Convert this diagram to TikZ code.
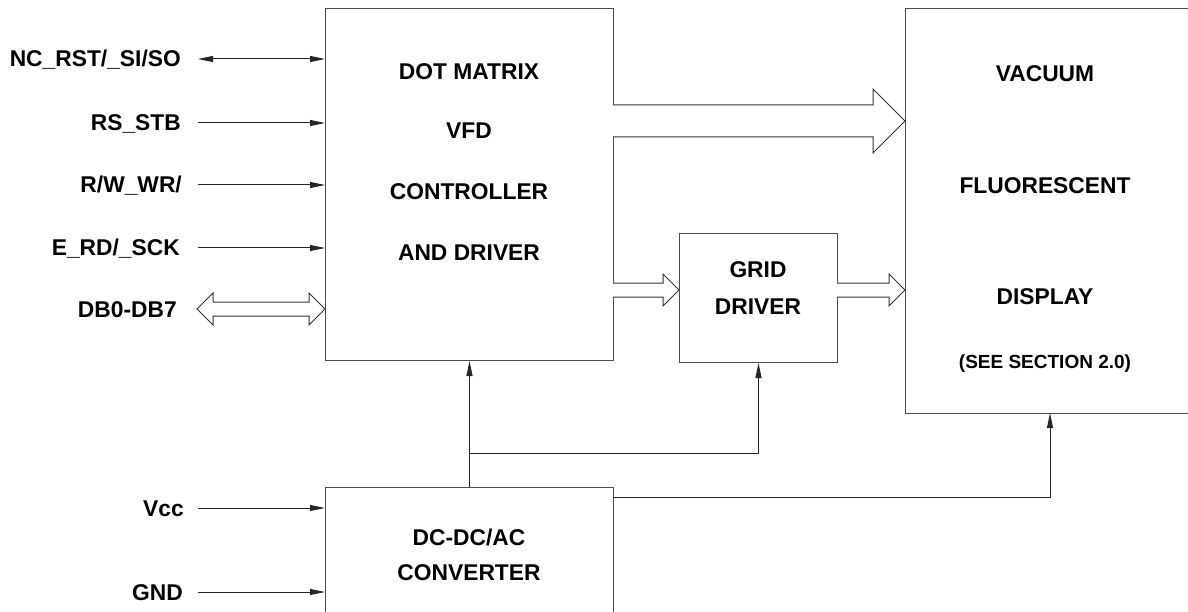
\documentclass[tikz,border=0pt]{standalone}
\usepackage{fontspec}
\setmainfont{Liberation Sans}
\usetikzlibrary{arrows.meta,calc}
\begin{document}
\begin{tikzpicture}[x=1pt,y=-1pt,
  >={Triangle[length=15pt,width=6pt]},
  box/.style={draw=black!70,line width=1pt,rectangle,anchor=north west,inner sep=0pt},
  lbl/.style={font=\fontsize{22.8}{26}\selectfont\bfseries,inner sep=0pt,text height=16pt,text depth=0pt},
  small/.style={font=\fontsize{19}{22}\selectfont\bfseries,inner sep=0pt,text height=13.5pt,text depth=0pt},
  sig/.style={draw=black!85,line width=1pt},
  hollow/.style={draw=black!80,line width=1pt,fill=white,line join=miter}]
\useasboundingbox (0,0) rectangle (1188,612);
% boxes
\node[box,minimum width=288pt,minimum height=352pt] (ctrl) at (325,8) {};
\node[box,minimum width=158pt,minimum height=129pt] (grid) at (679,233) {};
\node[box,minimum width=290pt,minimum height=405pt] (vfd) at (905,8) {};
\node[box,minimum width=288pt,minimum height=135pt] (conv) at (325,487) {};
% box texts
\node[lbl] (t1) at (469,72) {DOT MATRIX};
\node[lbl] (t2) at (469,131) {VFD};
\node[lbl] (t3) at (469,192) {CONTROLLER};
\node[lbl] (t4) at (469,253) {AND DRIVER};
\node[lbl] (g1) at (758,270) {GRID};
\node[lbl] (g2) at (758,306) {DRIVER};
\node[lbl] (v1) at (1045,74) {VACUUM};
\node[lbl] (v2) at (1045,186) {FLUORESCENT};
\node[lbl] (v3) at (1045,297) {DISPLAY};
\node[small] (v4) at (1045,362) {(SEE SECTION 2.0)};
\node[lbl] (c1) at (469,537) {DC-DC/AC};
\node[lbl] (c2) at (469,572) {CONVERTER};
% left labels
\node[lbl,anchor=east] (lnc) at (181,59) {NC\_RST/\_SI/SO};
\node[lbl,anchor=east] (lrs) at (181,123) {RS\_STB};
\node[lbl,anchor=east] (lrw) at (182,185) {R/W\_WR/};
\node[lbl,anchor=east] (le) at (180,248) {E\_RD/\_SCK};
\node[lbl,anchor=east] (ldb) at (177,309) {DB0-DB7};
\node[lbl,anchor=east] (lvcc) at (184,508) {Vcc};
\node[lbl,anchor=east] (lgnd) at (183,592) {GND};
% signal lines
\coordinate (snc) at (198,59);
\draw[sig,<->] (snc) -- (ctrl.west |- snc);
\coordinate (srs) at (198,123);
\draw[sig,->] (srs) -- (ctrl.west |- srs);
\coordinate (srw) at (198,185);
\draw[sig,->] (srw) -- (ctrl.west |- srw);
\coordinate (se) at (198,248);
\draw[sig,->] (se) -- (ctrl.west |- se);
\coordinate (svcc) at (198,508);
\draw[sig,->] (svcc) -- (conv.west |- svcc);
\coordinate (sgnd) at (198,592);
\draw[sig,->] (sgnd) -- (conv.west |- sgnd);
% DB bus double hollow arrow
\draw[hollow] (197,309) -- (213,293) -- (213,302) -- (309,302) -- (309,293) -- (325,309)
  -- (309,325) -- (309,316) -- (213,316) -- (213,325) -- cycle;
% big bus to VFD
\draw[hollow] (613,105) -- (873,105) -- (873,89) -- (905,121) -- (873,153) -- (873,137) -- (613,137);
% ctrl to grid
\draw[hollow] (613,283) -- (663,283) -- (663,274) -- (679,290) -- (663,306) -- (663,297) -- (613,297);
% grid to vfd
\draw[hollow] (837,283) -- (889,283) -- (889,274) -- (905,290) -- (889,306) -- (889,297) -- (837,297);
% power
\coordinate (j) at (469,453);
\draw[sig,->] (conv.north) -- (ctrl.south);
\draw[sig,->] (j) -| (grid.south);
\coordinate (pc) at (613,497);
\coordinate (pv) at (1050,413);
\draw[sig,->] (pc) -| (pv);
\end{tikzpicture}
\end{document}
